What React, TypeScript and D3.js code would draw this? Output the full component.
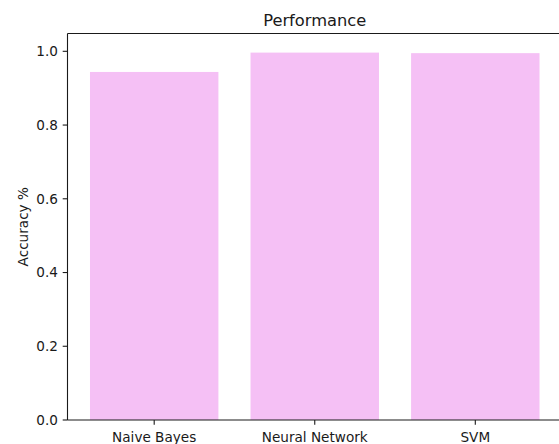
import React from "react";
import * as d3 from "d3";

const categories = ["Naive Bayes", "Neural Network", "SVM"];
const accuracy = [0.944, 0.9965, 0.995];
const yTicks = [0.0, 0.2, 0.4, 0.6, 0.8, 1.0];
const title = "Performance";
const yLabel = "Accuracy %";

const W = 559;
const H = 444;
const left = 67.5;
const right = 562;
const top = 33.5;
const bottom = 420;
const FONT = "DejaVu Sans, sans-serif";
const TXT = "#1a1a1a";

export default function App() {
  const x = d3.scaleLinear().domain([-0.54, categories.length - 1 + 0.54]).range([left, right]);
  const y = d3.scaleLinear().domain([0, 1.0483]).range([bottom, top]);
  const bw = x(0.4) - x(-0.4);
  const tickLen = 4.8;
  return (
    <svg width={W} height={H} style={{ position: "absolute", left: 0, top: 0, background: "#fff" }}>
      {accuracy.map((v, i) => (
        <rect key={i} x={x(i) - bw / 2} y={y(v)} width={bw} height={y(0) - y(v)} fill="#F5C0F5" />
      ))}
      <g fill="none" stroke={TXT} strokeWidth={1.1}>
        <line x1={left} x2={left} y1={top} y2={bottom} />
        <line x1={left} x2={right} y1={bottom} y2={bottom} />
        <line x1={left} x2={right} y1={top} y2={top} />
        <line x1={right} x2={right} y1={top} y2={bottom} />
      </g>
      {yTicks.map((t) => (
        <g key={t}>
          <line x1={left - tickLen} x2={left} y1={y(t)} y2={y(t)} stroke={TXT} strokeWidth={1.1} />
          <text x={left - tickLen - 4.8} y={y(t)} dy="0.36em" textAnchor="end" fontFamily={FONT} fontSize={13.6} fill={TXT}>
            {t.toFixed(1)}
          </text>
        </g>
      ))}
      {categories.map((c, i) => (
        <g key={c}>
          <line x1={x(i)} x2={x(i)} y1={bottom} y2={bottom + tickLen} stroke={TXT} strokeWidth={1.1} />
          <text x={x(i)} y={bottom + tickLen + 4.8 + 12.6} textAnchor="middle" fontFamily={FONT} fontSize={13.6} fill={TXT}>
            {c}
          </text>
        </g>
      ))}
      <text x={(left + right) / 2} y={26} textAnchor="middle" fontFamily={FONT} fontSize={16.3} fill={TXT}>
        {title}
      </text>
      <text
        transform={`translate(28.3,${(top + bottom) / 2}) rotate(-90)`}
        textAnchor="middle"
        fontFamily={FONT}
        fontSize={13.6}
        fill={TXT}
      >
        {yLabel}
      </text>
    </svg>
  );
}
